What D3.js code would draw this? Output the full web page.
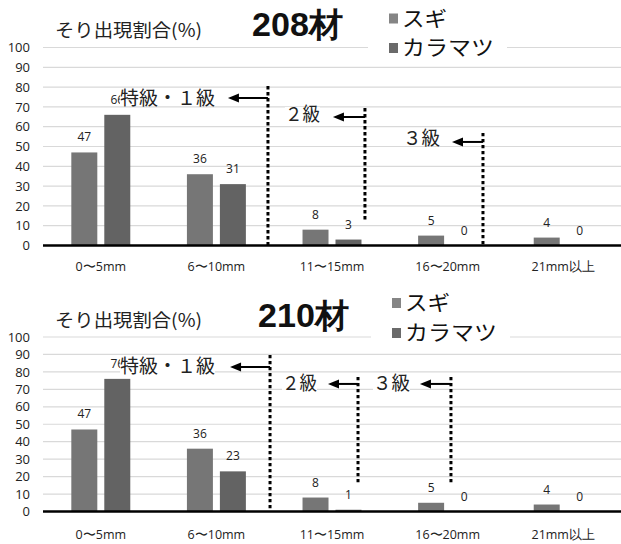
<!DOCTYPE html>
<html><head><meta charset="utf-8">
<script src="https://cdn.jsdelivr.net/npm/d3@7"></script>
<style>body{margin:0;background:#fff}</style>
</head><body>
<svg id="c" width="621" height="544"></svg>
<script>
// ---- data ----
const categories = ["0〜5mm", "6〜10mm", "11〜15mm", "16〜20mm", "21mm以上"];
const seriesNames = ["スギ", "カラマツ"];
const sugi208 = [47, 36, 8, 5, 4];
const karamatsu208 = [66, 31, 3, 0, 0];
const sugi210 = [47, 36, 8, 5, 4];
const karamatsu210 = [76, 23, 1, 0, 0];
const yTicks = [0, 10, 20, 30, 40, 50, 60, 70, 80, 90, 100];
const chartTitles = ["208材", "210材"];
const yTitle = "そり出現割合(%)";
const gradeLabels = ["特級・１級", "２級", "３級"];
// grade boundaries: x in category-index units, y in % units
const grades208X = [1.446, 2.285, 3.306];
const grades208Top = [80.5, 69.4, 56.8];
const grades208Bottom = [0, 12.9, 0];
const grades208Arrow = [74.5, 64.9, 52.3];
const grades210X = [1.464, 2.225, 3.029];
const grades210Top = [89.7, 77.1, 77.1];
const grades210Bottom = [0, 15.2, 15.2];
const grades210Arrow = [82.8, 73.1, 73.1];

// ---- layout ----
const W = 621;
const svg = d3.select("#c");
const barColors = ["#767676", "#636363"];
const legendColors = ["#858585", "#6a6a6a"];
const cjk = "'Noto Sans CJK JP', 'Noto Sans', sans-serif";
const num = "'Open Sans', 'Noto Sans', sans-serif";
const gradeWidths = [95, 35, 37];
const legendWidths = [45, 92];

const charts = [
  { top: 47.5, zero: 245.5, sugi: sugi208, kara: karamatsu208, title: chartTitles[0],
    gx: grades208X, gt: grades208Top, gb: grades208Bottom, ga: grades208Arrow, alen: [40, 32, 31], tgap: [13, 13, 12], tdy: [0, -3, -4],
    titleX: 252, titleY: 24, yTitleY: 31, legX: 389, legY: [18.5, 48], xLabY: 267 },
  { top: 337, zero: 511.5, sugi: sugi210, kara: karamatsu210, title: chartTitles[1],
    gx: grades210X, gt: grades210Top, gb: grades210Bottom, ga: grades210Arrow, alen: [40, 30, 31], tgap: [15, 11, 10], tdy: [-1, -1, -1],
    titleX: 258, titleY: 315, yTitleY: 321, legX: 392, legY: [303, 333], xLabY: 535 }
];

charts.forEach(c => {
  const g = svg.append("g");
  const y = d3.scaleLinear().domain([0, 100]).range([c.zero, c.top]);
  const x = d3.scaleBand().domain(categories).range([43, W]).paddingInner(0.49).paddingOuter(0.245);
  const xs = d3.scaleBand().domain(seriesNames).range([0, x.bandwidth()]).paddingInner(0.212);
  const xi = d3.scaleLinear().domain([-0.5, categories.length - 0.5]).range([43, W]);

  // gridlines
  g.append("g").selectAll("line").data(yTicks.filter(t => t > 0)).join("line")
    .attr("x1", 43).attr("x2", W).attr("y1", d => y(d)).attr("y2", d => y(d))
    .attr("stroke", "#d9d9d9").attr("stroke-width", 1.2);

  // y axis labels
  const ya = d3.axisLeft(y).tickValues(yTicks).tickSize(0).tickPadding(0);
  const yg = g.append("g").attr("transform", "translate(30,0)").call(ya);
  yg.select(".domain").remove();
  yg.selectAll("text").attr("font-family", num).attr("font-size", 13).attr("fill", "#222");

  // bars
  const rows = categories.map((k, i) => ({ k, vals: [c.sugi[i], c.kara[i]] }));
  const grp = g.append("g").selectAll("g").data(rows).join("g")
    .attr("transform", d => `translate(${x(d.k)},0)`);
  grp.selectAll("rect").data(d => d.vals.map((v, j) => ({ s: seriesNames[j], v, j }))).join("rect")
    .attr("x", d => xs(d.s)).attr("width", xs.bandwidth())
    .attr("y", d => y(d.v)).attr("height", d => y(0) - y(d.v))
    .attr("fill", d => barColors[d.j]);
  grp.selectAll("text").data(d => d.vals.map((v, j) => ({ s: seriesNames[j], v, j }))).join("text")
    .attr("x", d => xs(d.s) + xs.bandwidth() / 2).attr("y", d => y(d.v) - 11)
    .attr("text-anchor", "middle").attr("font-family", num).attr("font-size", 12).attr("fill", "#222")
    .text(d => d.v);

  // x axis
  const xa = d3.axisBottom(x).tickSize(0).tickPadding(0);
  const xg = g.append("g").attr("transform", `translate(0,${c.zero})`).call(xa);
  xg.select(".domain").attr("stroke", "#000").attr("stroke-width", 2.5).attr("d", `M43,0H${W}`);
  xg.selectAll("text").attr("font-family", num).attr("font-size", 12.5).attr("fill", "#222")
    .attr("y", c.xLabY - c.zero).attr("dy", "0.35em");

  // grade annotations
  gradeLabels.forEach((lab, i) => {
    const px = xi(c.gx[i]);
    g.append("line").attr("x1", px).attr("x2", px).attr("y1", y(c.gt[i])).attr("y2", y(c.gb[i]))
      .attr("stroke", "#000").attr("stroke-width", 3).attr("stroke-dasharray", "3.3,2.7");
    const ay = y(c.ga[i]);
    const tip = px - c.alen[i];
    g.append("line").attr("x1", px).attr("x2", tip + 8).attr("y1", ay).attr("y2", ay)
      .attr("stroke", "#000").attr("stroke-width", 2);
    g.append("path").attr("d", `M${tip},${ay}L${tip + 11},${ay - 4.5}L${tip + 11},${ay + 4.5}Z`).attr("fill", "#000");
    const tx = tip - c.tgap[i] - gradeWidths[i];
    const t = g.append("text").attr("x", tx).attr("y", ay + c.tdy[i]).attr("dy", "0.35em")
      .attr("font-family", cjk).attr("font-size", 19).attr("fill", "#222")
      .attr("textLength", gradeWidths[i]).attr("lengthAdjust", "spacingAndGlyphs").text(lab);
    g.insert("rect", () => t.node()).attr("x", tx).attr("y", ay + c.tdy[i] - 7).attr("width", gradeWidths[i]).attr("height", 14)
      .attr("fill", "#fff");
  });

  // titles
  g.append("text").attr("x", 55).attr("y", c.yTitleY).attr("dy", "0.35em")
    .attr("font-family", cjk).attr("font-size", 18).attr("fill", "#222")
    .attr("textLength", 147).attr("lengthAdjust", "spacingAndGlyphs").text(yTitle);
  g.append("text").attr("x", c.titleX).attr("y", c.titleY).attr("dy", "0.35em")
    .attr("font-family", "'Liberation Sans', Arial, sans-serif").attr("font-weight", "bold").attr("font-size", 33)
    .attr("textLength", 91).attr("lengthAdjust", "spacingAndGlyphs")
    .attr("fill", "#111").text(c.title);

  // legend
  const lx = c.legX;
  g.append("rect").attr("x", lx - 21).attr("y", c.top - 3).attr("width", 139).attr("height", 6).attr("fill", "#fff");
  seriesNames.forEach((s, j) => {
    g.append("rect").attr("x", lx).attr("y", c.legY[j] - 5).attr("width", 9).attr("height", 10).attr("fill", legendColors[j]);
    g.append("text").attr("x", lx + 13).attr("y", c.legY[j]).attr("dy", "0.35em")
      .attr("font-family", cjk).attr("font-size", 21).attr("fill", "#111")
      .attr("textLength", legendWidths[j]).attr("lengthAdjust", "spacingAndGlyphs").text(s);
  });
});
</script>
</body></html>
